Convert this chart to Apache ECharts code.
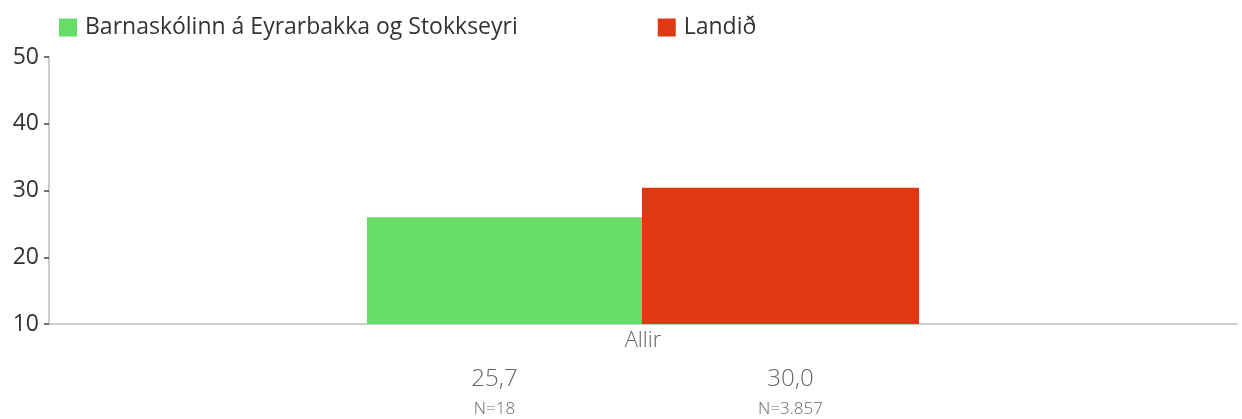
<!DOCTYPE html>
<html>
<head>
<meta charset="utf-8">
<script src="https://cdn.jsdelivr.net/npm/echarts@6/dist/echarts.min.js"></script>
<style>
  html, body { margin: 0; padding: 0; background: #fff; }
  #chart { width: 1242px; height: 419px; }
</style>
</head>
<body>
<div id="chart"></div>
<script>
// data
const categories = ['Allir']
const seriesNames = ['Barnaskólinn á Eyrarbakka og Stokkseyri', 'Landið']
const schoolValues = [26.0]
const countryValues = [30.4]
const valueLabels = ['25,7', '30,0']
const countLabels = ['N=18', 'N=3.857']
const yTicks = [10, 20, 30, 40, 50]

const colors = ['#66dd66', '#df3913']
const font = '"Open Sans", "Noto Sans", sans-serif'

const chart = echarts.init(document.getElementById('chart'))

const belowLabel = (i, dx) => ({
  show: true,
  position: 'bottom',
  distance: 39,
  offset: [dx, 0],
  formatter: () => '{v|' + valueLabels[i] + '}\n{n|' + countLabels[i] + '}',
  rich: {
    v: { fontSize: 24, color: '#666', fontFamily: font, fontWeight: 300, lineHeight: 32 },
    n: { fontSize: 17, color: '#666', fontFamily: font, fontWeight: 300, lineHeight: 28 }
  }
})

chart.setOption({
  animation: false,
  color: colors,
  textStyle: { fontFamily: font },
  legend: {
    left: 54,
    top: 11,
    itemWidth: 18,
    itemHeight: 18,
    itemGap: 140,
    icon: 'rect',
    textStyle: { fontSize: 23, color: '#333', fontFamily: font, fontWeight: 'normal', padding: [0, 0, 0, 3] },
    data: seriesNames
  },
  grid: {
    left: 49,
    right: 5,
    top: 57,
    bottom: 95
  },
  xAxis: {
    type: 'category',
    data: categories,
    axisLine: { lineStyle: { color: '#cccccc', width: 2 } },
    axisTick: { show: false },
    axisLabel: { fontSize: 22, color: '#666', fontFamily: font, fontWeight: 300, margin: 6 }
  },
  yAxis: {
    type: 'value',
    min: yTicks[0],
    max: yTicks[yTicks.length - 1],
    interval: 10,
    axisLine: { show: true, lineStyle: { color: '#cccccc', width: 2 } },
    axisTick: { show: true, inside: false, length: 5, lineStyle: { color: '#444', width: 1.5 } },
    axisLabel: { fontSize: 23, color: '#333', fontFamily: font, fontWeight: 'normal', margin: 10 },
    splitLine: { show: false }
  },
  series: [
    {
      name: seriesNames[0],
      type: 'bar',
      data: schoolValues,
      barWidth: 275,
      barGap: '0%',
      label: belowLabel(0, -10)
    },
    {
      name: seriesNames[1],
      type: 'bar',
      data: countryValues,
      barWidth: 277,
      barGap: '0%',
      label: belowLabel(1, 10)
    }
  ]
})

window.addEventListener('resize', () => chart.resize())
</script>
</body>
</html>
